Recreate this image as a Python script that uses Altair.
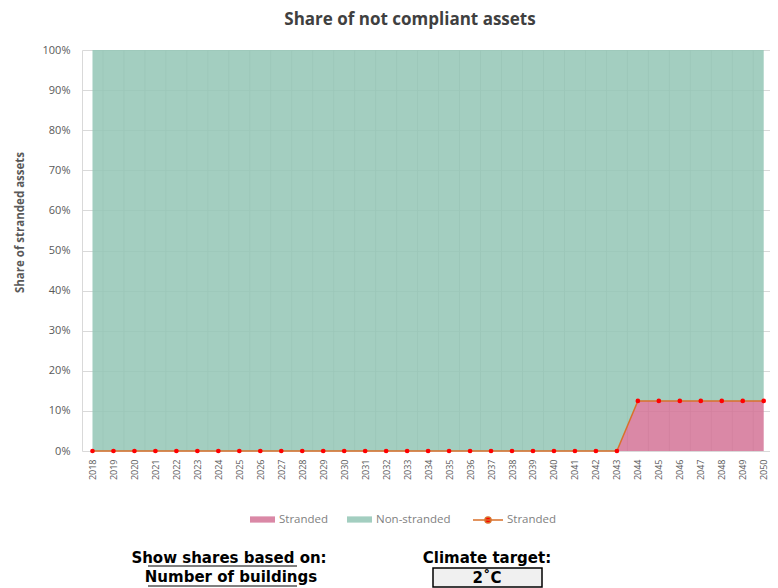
import altair as alt
import pandas as pd

years = [2018, 2019, 2020, 2021, 2022, 2023, 2024, 2025, 2026, 2027, 2028,
         2029, 2030, 2031, 2032, 2033, 2034, 2035, 2036, 2037, 2038, 2039,
         2040, 2041, 2042, 2043, 2044, 2045, 2046, 2047, 2048, 2049, 2050]
stranded = [0, 0, 0, 0, 0, 0, 0, 0, 0, 0, 0, 0, 0, 0, 0, 0, 0, 0, 0, 0, 0,
            0, 0, 0, 0, 0, 0.125, 0.125, 0.125, 0.125, 0.125, 0.125, 0.125]
non_stranded = [1, 1, 1, 1, 1, 1, 1, 1, 1, 1, 1, 1, 1, 1, 1, 1, 1, 1, 1, 1, 1,
                1, 1, 1, 1, 1, 0.875, 0.875, 0.875, 0.875, 0.875, 0.875, 0.875]
series_names = ["Stranded", "Non-stranded"]
series_colors = ["#d37397", "#93c6b5"]
line_name = "Stranded"
y_ticks = [0, 0.1, 0.2, 0.3, 0.4, 0.5, 0.6, 0.7, 0.8, 0.9, 1.0]

rows = []
for yr, s, n in zip(years, stranded, non_stranded):
    rows.append({"year": yr, "series": series_names[0], "value": s, "ord": 0})
    rows.append({"year": yr, "series": series_names[1], "value": n, "ord": 1})
area_df = pd.DataFrame(rows)
line_df = pd.DataFrame({"year": years, "value": stranded, "lname": [line_name] * len(years)})
grid_df = pd.DataFrame({"gx": [(a + b) / 2 for a, b in zip(years[:-1], years[1:])]})
one = pd.DataFrame({"k": [0]})

PX0 = 82   # page x of plot left
PY0 = 50   # page y of plot top
FONT = "Open Sans"

xscale = alt.Scale(domain=[2017.5, 2050.3], nice=False, zero=False)
yscale = alt.Scale(domain=[0, 1], nice=False)

x_axis = alt.Axis(values=years, format="d", labelAngle=270, labelFontSize=9,
                  labelColor="#595959", labelFont=FONT, grid=False, ticks=False,
                  domain=False, labelPadding=8, title=None, labelOverlap=False)
y_axis = alt.Axis(values=y_ticks, format=".0%", labelFontSize=11, labelColor="#595959",
                  labelFont=FONT, grid=True, gridColor="#d9d9d9", ticks=False,
                  domain=True, domainColor="#d9d9d9", labelPadding=12,
                  title="Share of stranded assets", titleFont=FONT, titleFontSize=11.5,
                  titleFontWeight="bold", titleColor="#595959", titleX=-57, titleY=172,
                  titleAnchor="middle", titleAlign="center")

vgrid = alt.Chart(grid_df).mark_rule(color="#d0d0d0", strokeWidth=1).encode(
    x=alt.X("gx:Q", scale=xscale, axis=x_axis),
    y=alt.value(0), y2=alt.value(401))

area = alt.Chart(area_df).mark_area(opacity=0.85, interpolate="linear").encode(
    x=alt.X("year:Q", scale=xscale, axis=x_axis),
    y=alt.Y("value:Q", stack="zero", scale=yscale, axis=y_axis),
    color=alt.Color("series:N", scale=alt.Scale(domain=series_names, range=series_colors),
                    legend=alt.Legend(orient="none", direction="horizontal", title=None,
                                      legendX=168, legendY=457,
                                      symbolType="M-1,-0.25H1V0.25H-1Z", symbolSize=625,
                                      symbolOpacity=0.85, symbolStrokeWidth=0,
                                      labelFont=FONT, labelFontSize=11.5,
                                      labelColor="#7f7f7f", labelOffset=4,
                                      columnPadding=18)),
    order=alt.Order("ord:Q"))

line = alt.Chart(line_df).mark_line(strokeWidth=1.5).encode(
    x=alt.X("year:Q", scale=xscale, axis=x_axis),
    y=alt.Y("value:Q", scale=yscale),
    stroke=alt.Stroke("lname:N", scale=alt.Scale(domain=[line_name], range=["#d9702a"]),
                      legend=alt.Legend(orient="none", direction="horizontal", title=None,
                                        legendX=390, legendY=454,
                                        symbolType="M-1,0H1M0.2,0A0.2,0.2 0 1,1 -0.2,0A0.2,0.2 0 1,1 0.2,0Z",
                                        symbolSize=900, symbolFillColor="#ff0000",
                                        symbolStrokeWidth=1.5,
                                        labelFont=FONT, labelFontSize=11.5,
                                        labelColor="#7f7f7f", labelOffset=3)))

pts = alt.Chart(line_df).mark_circle(size=22, color="#ff0000", opacity=1).encode(
    x=alt.X("year:Q", scale=xscale, axis=x_axis),
    y=alt.Y("value:Q", scale=yscale))

def txt(s, px, py, size=15):
    return alt.Chart(one).mark_text(text=s, font="DejaVu Sans", fontWeight="bold",
                                    fontSize=size, color="#000000", align="center",
                                    baseline="middle").encode(
        x=alt.value(px - PX0), y=alt.value(py - PY0))

def hline(x1, x2, py, w=1.2):
    return alt.Chart(one).mark_rule(color="#000000", strokeWidth=w).encode(
        x=alt.value(x1 - PX0), x2=alt.value(x2 - PX0), y=alt.value(py - PY0))

box = alt.Chart(one).mark_rect(fill="#f0f0f0", stroke="#000000", strokeWidth=1.5).encode(
    x=alt.value(433 - PX0), x2=alt.value(542 - PX0),
    y=alt.value(568 - PY0), y2=alt.value(587 - PY0))

chart = alt.layer(
    vgrid, area, line, pts,
    hline(148, 297, 566), hline(148, 297, 586),
    txt("Show shares based on:", 229, 558),
    txt("Number of buildings", 231, 577),
    box,
    txt("2˚C", 487, 578),
    txt("Climate target:", 487, 558),
).resolve_scale(color="independent").properties(
    width=688, height=401,
    autosize=alt.AutoSizeParams(type="none"),
    padding={"left": 74, "top": 42, "right": 0, "bottom": 137},
    title=alt.Title("Share of not compliant assets", font=FONT, fontSize=17,
                    fontWeight="bold", color="#404040", anchor="middle", dx=-16,
                    offset=15),
).configure_view(stroke=None)

chart.save("out.html", embed_options={"renderer": "svg", "actions": False})
